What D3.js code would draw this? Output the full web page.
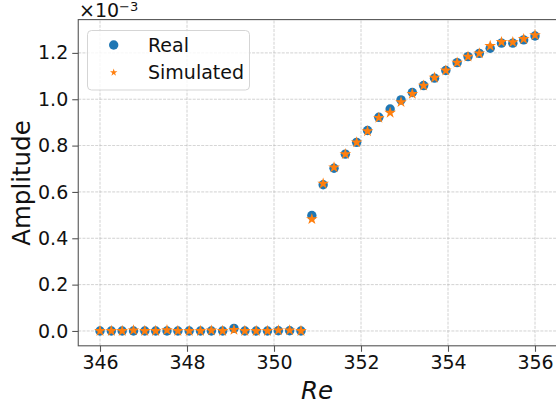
<!DOCTYPE html>
<html><head><meta charset="utf-8">
<script src="https://cdn.jsdelivr.net/npm/d3@7"></script>
<style>body{margin:0;background:#fff}svg{display:block}</style>
</head><body>
<svg id="c" width="556" height="405"></svg>
<script>
const reynolds = [346.00,346.26,346.51,346.77,347.03,347.28,347.54,347.79,348.05,348.31,348.56,348.82,349.08,349.33,349.59,349.85,350.10,350.36,350.62,
  350.87,351.13,351.38,351.64,351.90,352.15,352.41,352.67,352.92,353.18,353.44,353.69,353.95,354.21,354.46,354.72,354.97,355.23,355.49,355.74,356.00];
const realAmp = [0,0,0,0,0,0,0,0,0,0,0,0,0.011,0,0,0,0.001,0.001,0,
  0.498,0.631,0.702,0.763,0.814,0.865,0.922,0.958,0.997,1.029,1.059,1.091,1.124,1.158,1.184,1.198,1.220,1.242,1.242,1.256,1.273];
const simAmp = [0,0,0,0.003,0,0,0.004,0,0,0,0.002,0,0.005,0,0,0,0.003,0.003,0,
  0.483,0.636,0.706,0.763,0.814,0.862,0.920,0.942,0.988,1.023,1.059,1.093,1.124,1.158,1.184,1.198,1.230,1.247,1.246,1.260,1.277];
const xTicks = [346,348,350,352,354,356];
const yTicks = [0,0.2,0.4,0.6,0.8,1.0,1.2];
const seriesNames = ["Real","Simulated"];
const colors = ["#1f77b4","#ff7f0e"];

const svg = d3.select("#c");
const font = "DejaVu Sans, sans-serif";
const x = d3.scaleLinear().domain([345.5,356.5]).range([78.25,556.75]);
const y = d3.scaleLinear().domain([-0.064,1.3437]).range([345.8,19.6]);

// grid
const g = svg.append("g");
g.selectAll(".gx").data(xTicks).join("line")
  .attr("x1",d=>x(d)).attr("x2",d=>x(d)).attr("y1",y.range()[0]).attr("y2",y.range()[1])
  .attr("stroke","#b0b0b0").attr("stroke-width",0.8).attr("stroke-dasharray","2.96,1.28").attr("opacity",0.7);
g.selectAll(".gy").data(yTicks).join("line")
  .attr("y1",d=>y(d)).attr("y2",d=>y(d)).attr("x1",x.range()[0]).attr("x2",x.range()[1])
  .attr("stroke","#b0b0b0").attr("stroke-width",0.8).attr("stroke-dasharray","2.96,1.28").attr("opacity",0.7);

// points
const star = d3.symbol().type(d3.symbolStar).size(42);
svg.append("g").selectAll("circle").data(reynolds).join("circle")
  .attr("cx",(d)=>x(d)).attr("cy",(d,i)=>y(realAmp[i])).attr("r",4.7).attr("fill",colors[0]);
svg.append("g").selectAll("path").data(reynolds).join("path")
  .attr("d",star).attr("transform",(d,i)=>`translate(${x(d)},${y(simAmp[i])})`).attr("fill",colors[1]);

// axes
const xAxis = d3.axisBottom(x).tickValues(xTicks).tickFormat(d3.format("d")).tickSize(6).tickPadding(4);
const yAxis = d3.axisLeft(y).tickValues(yTicks).tickFormat(d3.format(".1f")).tickSize(6).tickPadding(4);
const ax = svg.append("g").attr("transform",`translate(0,${y.range()[0]})`).call(xAxis);
const ay = svg.append("g").attr("transform",`translate(${x.range()[0]},0)`).call(yAxis);
[ax,ay].forEach(a=>{
  a.select(".domain").remove();
  a.selectAll(".tick line").attr("stroke","#555").attr("stroke-width",1.1);
  a.selectAll(".tick text").attr("fill","#111").style("font-family",font).style("font-size","19px");
});
// spines
const sp = svg.append("g").attr("fill","none").attr("stroke","#555").attr("stroke-width",1.1);
sp.append("rect").attr("x",x.range()[0]).attr("y",y.range()[1]).attr("width",x.range()[1]-x.range()[0]).attr("height",y.range()[0]-y.range()[1]);

// offset text
const off = svg.append("text").attr("x",79).attr("y",17).attr("fill","#111").style("font-family",font).style("font-size","19px");
off.append("tspan").text("×10");
off.append("tspan").attr("dy",-6).style("font-size","13px").text("−3");

// labels
svg.append("text").attr("transform","translate(30,183) rotate(-90)").attr("text-anchor","middle")
  .attr("fill","#111").style("font-family",font).style("font-size","24.5px").text("Amplitude");
svg.append("text").attr("x",317).attr("y",399).attr("text-anchor","middle")
  .attr("fill","#111").style("font-family",font).style("font-size","24.5px").style("font-style","italic").text("Re");

// legend
const lg = svg.append("g");
lg.append("rect").attr("x",87.5).attr("y",30.5).attr("width",162).attr("height",59.5).attr("rx",4)
  .attr("fill","#fff").attr("fill-opacity",0.8).attr("stroke","#d5d5d5").attr("stroke-width",1);
lg.append("circle").attr("cx",113.7).attr("cy",45).attr("r",4.7).attr("fill",colors[0]);
lg.append("path").attr("d",d3.symbol().type(d3.symbolStar).size(17)).attr("transform","translate(113.7,72.5)").attr("fill",colors[1]);
lg.selectAll(".lt").data(seriesNames).join("text").attr("x",148).attr("y",(d,i)=>51.5+i*27.7)
  .attr("fill","#111").style("font-family",font).style("font-size","19px").text(d=>d);
</script>
</body></html>
